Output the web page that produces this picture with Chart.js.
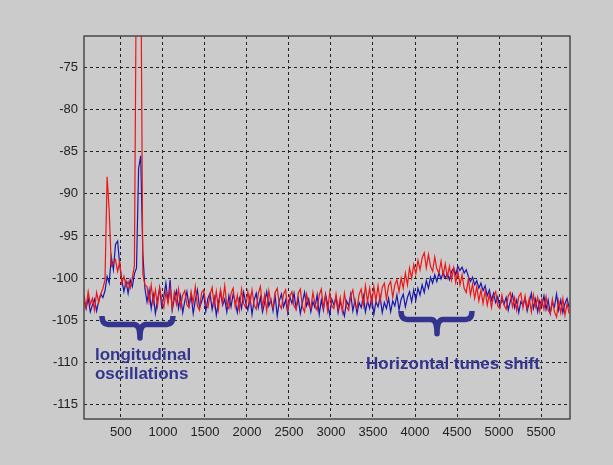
<!DOCTYPE html>
<html>
<head>
<meta charset="utf-8">
<script src="https://cdn.jsdelivr.net/npm/chart.js@4/dist/chart.umd.min.js"></script>
<style>
  html, body { margin: 0; padding: 0; background: #cbcbcb; }
  #wrap { position: relative; width: 613px; height: 465px; }
</style>
</head>
<body>
<div id="wrap"><canvas id="spectrum"></canvas></div>
<script>
// Spectrum: one value every 25 units, starting at 60.
const FREQ_START = 60;
const FREQ_STEP = 25;

const redLevels = [
  -102.0, -103.5, -101.6, -103.1, -102.4, -103.8, -101.7, -102.9, -101.9, -101.2,
  -100.2,  -88.0,  -92.0,  -98.6,  -98.2,  -97.8,  -99.2,  -98.0, -100.6,  -99.8,
  -101.0, -100.4, -101.2, -100.0,  -98.5,  -60.0,  -60.0,  -60.0,  -99.5, -100.8,
  -101.0, -102.8, -100.8, -102.9, -101.4, -103.3, -101.1, -102.6, -103.5, -101.6,
  -103.0, -101.2, -103.6, -101.7, -103.1, -101.3, -103.4, -102.0, -101.5, -103.2,
  -103.5, -101.6, -102.9, -101.0, -103.3, -103.8, -101.7, -101.4, -103.1, -103.5,
  -102.0, -101.1, -103.3, -101.6, -103.7, -101.4, -102.9, -100.9, -103.2, -103.6,
  -101.8, -101.2, -103.4, -102.0, -103.8, -101.3, -103.0, -103.5, -101.6, -103.1,
  -101.4, -103.2, -103.7, -101.8, -101.0, -103.4, -102.0, -103.9, -101.5, -103.0,
  -103.5, -101.7, -101.2, -103.1, -103.6, -101.9, -101.4, -103.8, -102.1, -101.6,
  -103.3, -103.7, -101.8, -101.3, -103.4, -104.0, -101.9, -103.2, -103.6, -101.7,
  -103.1, -103.8, -102.0, -101.3, -103.5, -102.1, -103.9, -101.7, -103.3, -103.6,
  -101.9, -103.7, -102.3, -104.0, -101.8, -103.4, -103.8, -102.1, -101.4, -103.2,
  -103.6, -101.9, -101.3, -103.2, -100.9, -102.8, -101.2, -103.1, -101.0, -102.7,
  -100.9, -102.8, -101.1, -100.6, -102.5, -100.9, -100.4, -102.3, -100.8, -100.2,
  -101.6, -100.0, -101.2,  -99.4, -100.8,  -98.8, -100.0,  -98.4,  -99.5,  -97.9,
   -99.0,  -97.6,  -97.0,  -98.8,  -97.2,  -98.6,  -99.2,  -97.5,  -98.9,  -99.4,
   -98.0,  -99.7,  -98.3,  -99.9,  -98.6, -100.2,  -98.8, -100.5,  -99.2, -100.8,
   -99.6, -101.2, -101.7, -100.1, -102.0, -100.7, -102.4, -101.0, -102.7, -101.4,
  -103.0, -101.5, -103.2, -101.9, -103.5, -102.1, -101.6, -103.3, -103.6, -102.0,
  -103.2, -103.7, -102.1, -101.7, -103.4, -102.3, -103.8, -102.2, -101.8, -103.5,
  -102.1, -103.6, -102.4, -104.0, -102.0, -103.4, -102.3, -103.9, -102.5, -103.7,
  -102.2, -103.8, -104.2, -102.5, -104.0, -104.6, -102.7, -104.1, -102.4, -104.4,
  -103.0, -104.2
];

const blueLevels = [
  -102.8, -103.6, -102.4, -104.0, -103.2, -102.5, -103.9, -102.7, -101.9, -102.3,
  -101.5,  -99.8, -100.6,  -97.5,  -99.0,  -96.0,  -95.6,  -98.4, -100.2, -101.6,
  -100.4, -101.8, -100.2, -101.0,  -99.5,  -98.8,  -87.0,  -85.5,  -97.0, -101.2,
  -102.8, -101.4, -103.6, -102.0, -104.2, -102.6, -101.2, -103.4, -102.2, -100.6,
  -102.9, -100.2, -103.8, -102.4, -101.5, -103.6, -102.1, -104.1, -102.7, -101.6,
  -103.3, -102.0, -104.2, -102.6, -101.4, -103.5, -102.8, -101.9, -103.9, -102.4,
  -101.8, -103.7, -102.3, -104.4, -102.9, -101.6, -103.2, -102.5, -104.0, -102.1,
  -103.4, -101.9, -102.8, -104.1, -102.4, -103.6, -101.7, -102.9, -103.8, -102.2,
  -104.3, -102.6, -101.8, -103.5, -102.3, -104.0, -102.9, -101.6, -103.3, -102.5,
  -103.9, -102.1, -104.5, -102.7, -101.9, -103.4, -102.6, -104.1, -102.2, -103.0,
  -101.8, -103.6, -102.4, -104.2, -102.9, -101.7, -103.3, -102.5, -104.0, -102.8,
  -103.5, -102.0, -104.3, -102.6, -103.8, -101.9, -103.1, -104.4, -102.5, -103.2,
  -102.3, -104.1, -102.8, -103.6, -104.5, -102.7, -103.3, -101.9, -103.9, -102.6,
  -104.2, -102.9, -103.5, -102.1, -104.0, -102.7, -103.6, -102.3, -104.3, -102.8,
  -103.4, -102.2, -104.1, -102.9, -103.6, -102.4, -104.0, -102.7, -103.3, -102.0,
  -103.8, -102.5, -101.9, -103.4, -102.3, -101.6, -102.8, -101.4, -102.6, -101.2,
  -102.0, -100.8, -101.7, -100.3, -101.2,  -99.9, -100.6,  -99.6, -100.4,  -99.4,
  -100.1,  -99.3, -100.0,  -99.5, -100.2,  -99.2,  -98.8,  -99.6,  -98.6,  -99.1,
   -98.7,  -99.4,  -99.0,  -99.8, -100.4,  -99.9, -100.8, -100.3, -101.2, -100.6,
  -101.5, -100.9, -102.1, -101.4, -102.6, -101.8, -102.9, -102.2, -103.4, -102.5,
  -103.1, -102.3, -103.8, -102.7, -101.9, -103.5, -102.6, -104.1, -102.8, -103.2,
  -102.4, -103.9, -102.9, -101.8, -103.6, -102.5, -104.0, -102.7, -103.3, -102.1,
  -103.7, -102.6, -104.2, -102.9, -103.4, -101.9, -103.8, -102.6, -104.1, -103.0,
  -102.4, -103.5
];

const X_TICKS = [500, 1000, 1500, 2000, 2500, 3000, 3500, 4000, 4500, 5000, 5500];
const Y_TICKS = [-115, -110, -105, -100, -95, -90, -85, -80, -75];

// annotation placement, in data units
const BRACES = [
  { from: 274, to: 1119, tip: 726, top: -104.5, bar: -105.5, low: -107.1 },
  { from: 3833, to: 4679, tip: 4262, top: -103.9, bar: -104.9, low: -106.6 },
];
const NOTES = [
  { text: 'longitudinal', x: 190, y: -109.1 },
  { text: 'oscillations', x: 190, y: -111.45 },
  { text: 'Horizontal tunes shift', x: 3417, y: -110.27 },
];

const toPoints = (levels) => levels.map((v, i) => ({ x: FREQ_START + i * FREQ_STEP, y: v }));

const INK = '#34348f';

const annotate = {
  id: 'annotate',
  afterDatasetsDraw(chart) {
    const { ctx, chartArea: a, scales: { x, y } } = chart;
    ctx.save();
    ctx.strokeStyle = INK;
    ctx.lineWidth = 5.5;
    ctx.lineJoin = 'round';
    BRACES.forEach(b => {
      const x0 = x.getPixelForValue(b.from), x1 = x.getPixelForValue(b.to);
      const xm = x.getPixelForValue(b.tip);
      const yt = y.getPixelForValue(b.top), yb = y.getPixelForValue(b.bar), yl = y.getPixelForValue(b.low);
      const r = 6;
      ctx.beginPath();
      ctx.moveTo(x0, yt);
      ctx.quadraticCurveTo(x0, yb, x0 + r, yb);
      ctx.lineTo(xm - r, yb);
      ctx.quadraticCurveTo(xm, yb, xm, yl);
      ctx.quadraticCurveTo(xm, yb, xm + r, yb);
      ctx.lineTo(x1 - r, yb);
      ctx.quadraticCurveTo(x1, yb, x1, yt);
      ctx.stroke();
    });
    ctx.fillStyle = INK;
    ctx.font = 'bold 17px "Liberation Sans", Arial, sans-serif';
    ctx.textBaseline = 'middle';
    ctx.textAlign = 'left';
    NOTES.forEach(n => ctx.fillText(n.text, x.getPixelForValue(n.x), y.getPixelForValue(n.y)));
    // box round the axes
    ctx.strokeStyle = '#4a4a4a';
    ctx.lineWidth = 1.5;
    ctx.strokeRect(a.left, a.top, a.right - a.left, a.bottom - a.top);
    ctx.restore();
  }
};

const tickFont = { family: '"Liberation Sans", Arial, sans-serif', size: 13 };

new Chart(document.getElementById('spectrum'), {
  type: 'line',
  data: {
    datasets: [
      { data: toPoints(redLevels), borderColor: '#f01414', borderWidth: 1.2 },
      { data: toPoints(blueLevels), borderColor: '#1616b0', borderWidth: 1.2 },
    ]
  },
  options: {
    responsive: true,
    maintainAspectRatio: false,
    animation: false,
    layout: { padding: { top: 36, right: 43, left: 0, bottom: 0 } },
    plugins: { legend: { display: false }, tooltip: { enabled: false } },
    elements: { point: { radius: 0 }, line: { tension: 0 } },
    scales: {
      x: {
        type: 'linear',
        min: 60,
        max: 5845,
        afterBuildTicks: (s) => { s.ticks = X_TICKS.map(v => ({ value: v })); },
        afterFit: (s) => { s.height = 46; },
        grid: { color: '#222', lineWidth: 1, drawTicks: false },
        border: { display: false, dash: [3, 3] },
        ticks: { color: '#222', font: tickFont, padding: 6, maxRotation: 0, callback: (v) => String(v) }
      },
      y: {
        min: -116.7,
        max: -71.3,
        afterBuildTicks: (s) => { s.ticks = Y_TICKS.map(v => ({ value: v })); },
        afterFit: (s) => { s.width = 84; },
        grid: { color: '#222', lineWidth: 1, drawTicks: false },
        border: { display: false, dash: [3, 3] },
        ticks: { color: '#222', font: tickFont, padding: 6, callback: (v) => String(v) }
      }
    }
  },
  plugins: [annotate]
});
</script>
</body>
</html>
